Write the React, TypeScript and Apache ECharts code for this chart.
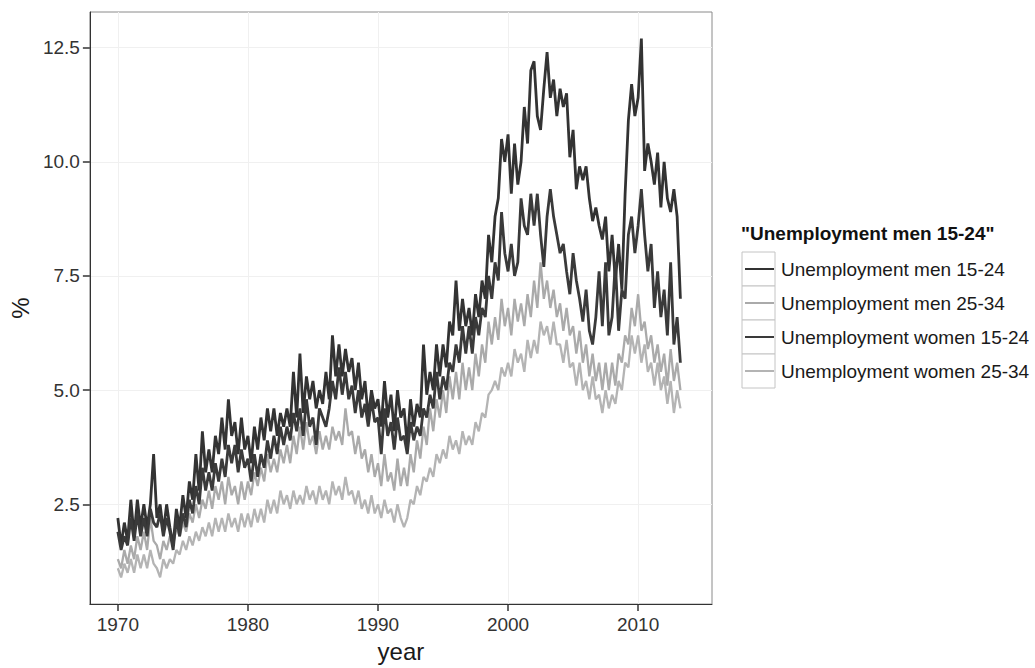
import React, { useEffect, useRef } from "react";
import * as echarts from "echarts";

// Quarterly unemployment rates (%), starting 1970 Q1
const startYear = 1970;
const stepsPerYear = 4;

const seriesNames = [
  "Unemployment men 15-24",
  "Unemployment men 25-34",
  "Unemployment women 15-24",
  "Unemployment women 25-34",
];
const legendTitle = '"Unemployment men 15-24"';
const xTicks = [1970, 1980, 1990, 2000, 2010];
const yTicks = [2.5, 5, 7.5, 10, 12.5];

const men1524 = [
  2.2, 1.6, 2.1, 1.7,
  2.6, 1.8, 2.6, 2.0,
  2.5, 2.0, 2.5, 3.6,
  2.2, 2.5, 1.9, 2.5,
  2.0, 1.6, 2.4, 2.0,
  2.7, 2.2, 3.0, 2.6,
  3.6, 2.8, 4.1, 3.2,
  3.7, 3.2, 4.0, 3.6,
  4.4, 3.7, 4.8, 4.0,
  4.3, 3.6, 4.4, 3.7,
  4.0, 3.4, 4.2, 3.7,
  4.4, 3.9, 4.6, 4.1,
  4.6, 4.0, 4.5, 4.2,
  4.6, 4.2, 5.4, 4.4,
  5.8, 4.5, 5.3, 4.8,
  5.2, 4.6, 5.0, 4.7,
  5.4, 4.8, 6.2, 5.3,
  6.0, 5.3, 5.9, 5.4,
  5.7, 5.0, 5.6, 4.8,
  5.2, 4.4, 5.0, 4.6,
  4.8, 4.2, 5.2, 4.4,
  4.9, 4.1, 5.0, 4.4,
  4.6, 3.8, 4.8, 4.2,
  4.7, 4.4, 6.0, 4.9,
  5.4, 5.0, 6.0, 5.3,
  6.0, 5.5, 6.5, 6.2,
  7.4, 6.3, 7.0, 6.4,
  6.8, 6.2, 7.1, 6.6,
  7.4, 7.0, 8.4, 7.8,
  8.8, 9.2, 10.5, 10.0,
  10.6, 9.3, 10.4, 9.5,
  10.0, 11.2, 10.4, 12.0,
  12.2, 11.0, 10.7, 11.6,
  12.4, 11.4, 11.8, 11.0,
  11.6, 11.2, 11.5, 10.1,
  10.7, 9.4, 9.9, 9.6,
  9.9, 9.2, 8.7, 9.0,
  8.6, 8.3, 8.8, 7.6,
  8.4, 7.4, 8.2, 7.2,
  9.3, 10.9, 11.7, 11.0,
  11.4, 12.7, 9.8, 10.4,
  10.0, 9.5, 10.2, 9.0,
  10.0, 9.2, 8.9, 9.4,
  8.8, 7.0,
];

const men2534 = [
  1.3, 1.1, 1.5, 1.2,
  1.6, 1.3, 1.8, 1.5,
  1.9, 1.5, 2.2, 1.7,
  1.6, 1.3, 1.7, 1.5,
  1.8, 1.6, 2.0, 1.8,
  2.1, 1.9, 2.3, 2.1,
  2.5, 2.2, 2.6, 2.4,
  2.8, 2.4, 2.9, 2.6,
  3.0, 2.5, 3.1, 2.7,
  2.9, 2.5, 3.0, 2.6,
  3.0, 2.7, 3.2, 2.9,
  3.3, 3.0, 3.6, 3.2,
  3.5, 3.2, 3.7, 3.4,
  3.8, 3.4, 4.0, 3.6,
  4.2, 3.7, 4.3, 3.8,
  4.0, 3.6, 4.1, 3.7,
  4.0, 3.7, 4.2, 3.9,
  4.1, 3.8, 4.6, 4.0,
  4.1, 3.6, 4.0, 3.5,
  3.7, 3.2, 3.6, 3.1,
  3.4, 2.9, 3.6, 3.0,
  3.2, 2.8, 3.5, 2.9,
  3.3, 2.9, 3.6, 3.2,
  3.9, 3.5, 4.2, 3.8,
  4.6, 4.1, 4.8, 4.4,
  5.0, 4.5, 5.3, 4.8,
  5.4, 4.8, 5.6, 5.0,
  5.5, 5.0, 5.8, 5.3,
  6.0, 5.6, 6.5, 6.0,
  6.6, 6.1, 7.0, 6.4,
  6.8, 6.2, 7.0, 6.5,
  6.9, 6.4, 7.1, 6.6,
  7.4, 6.8, 7.8, 7.0,
  7.4, 6.8, 7.2, 6.6,
  6.9, 6.3, 6.8, 6.2,
  6.4, 5.8, 6.3, 5.6,
  6.0, 5.3, 5.8, 5.2,
  5.6, 5.0, 5.6, 5.0,
  5.6, 5.1, 5.8, 5.6,
  6.2, 6.0, 6.8, 6.4,
  7.1, 6.3, 6.5, 5.9,
  6.2, 5.6, 6.0, 5.4,
  5.8, 5.1, 5.9, 5.2,
  5.6, 5.0,
];

const women1524 = [
  1.9, 1.5, 1.8, 1.6,
  2.2, 1.7, 2.3, 1.8,
  2.2, 1.8, 2.4, 2.1,
  2.0, 2.3, 1.8, 2.2,
  1.9, 1.5, 2.2, 1.8,
  2.3, 2.0, 2.6, 2.3,
  2.9, 2.5, 3.3, 2.8,
  3.2, 2.8, 3.4, 3.0,
  3.5, 3.1, 3.8, 3.4,
  3.8, 3.2, 3.7, 3.3,
  3.5, 3.0, 3.6, 3.1,
  3.6, 3.3, 3.9, 3.5,
  4.0, 3.6, 4.2, 3.8,
  4.2, 3.9, 4.5, 4.1,
  4.6, 4.0, 4.8, 4.2,
  4.4, 3.8, 4.6, 4.4,
  4.2, 4.6, 5.2, 4.8,
  5.5, 4.9, 5.4, 4.8,
  5.1, 4.5, 5.0, 4.4,
  4.7, 4.2, 4.8, 4.3,
  4.4, 3.6, 4.6, 4.0,
  4.3, 3.7, 4.4, 3.9,
  4.0, 3.6, 4.3, 3.9,
  4.2, 4.0, 4.6, 4.4,
  4.9, 4.6, 5.4, 4.8,
  5.3, 5.0, 5.6, 5.4,
  6.0, 5.6, 6.4, 5.8,
  6.4, 5.8, 6.6, 6.2,
  6.8, 6.6, 7.5, 7.0,
  7.8, 7.4, 8.9, 8.0,
  7.6, 8.2, 7.5, 7.8,
  9.2, 8.6, 8.4, 9.3,
  8.6, 9.3, 8.4, 7.7,
  8.8, 9.4, 8.8, 8.4,
  8.0, 8.2, 7.6, 7.1,
  8.0, 7.4, 7.0, 6.5,
  7.2, 6.3, 6.0, 6.6,
  7.6, 6.4, 7.8, 6.2,
  6.6, 7.8, 6.3, 7.2,
  7.0, 8.4, 8.8, 8.0,
  8.6, 9.4, 8.4, 7.6,
  8.2, 6.8, 7.6, 6.6,
  7.2, 6.2, 7.8, 6.0,
  6.6, 5.6,
];

const women2534 = [
  1.1, 0.9, 1.2, 1.0,
  1.3, 1.0, 1.4, 1.1,
  1.4, 1.1, 1.5, 1.2,
  1.1, 0.9, 1.3, 1.1,
  1.3, 1.2, 1.5, 1.4,
  1.7, 1.5, 1.8, 1.6,
  1.9, 1.7, 2.0, 1.8,
  2.1, 1.8, 2.2, 1.9,
  2.2, 1.9, 2.3, 2.0,
  2.2, 1.9, 2.3, 2.0,
  2.3, 2.0, 2.4, 2.1,
  2.4, 2.1, 2.6, 2.3,
  2.6, 2.3, 2.8, 2.5,
  2.7, 2.4, 2.8, 2.5,
  2.7, 2.5, 2.9, 2.6,
  2.8, 2.5, 2.9, 2.6,
  2.8, 2.5, 3.0, 2.7,
  2.9, 2.6, 3.1, 2.7,
  2.8, 2.5, 2.8, 2.4,
  2.6, 2.3, 2.7, 2.3,
  2.5, 2.2, 2.6, 2.3,
  2.4, 2.1, 2.5, 2.2,
  2.0, 2.2, 2.6, 2.5,
  2.9, 2.7, 3.1, 3.0,
  3.3, 3.1, 3.6, 3.4,
  3.7, 3.5, 4.0, 3.7,
  3.9, 3.6, 4.1, 3.8,
  4.0, 3.8, 4.3, 4.1,
  4.5, 4.4, 4.9, 5.0,
  5.2, 5.0, 5.5, 5.3,
  5.6, 5.3, 5.9, 5.6,
  5.8, 5.4, 6.1, 5.7,
  6.1, 5.8, 6.5, 6.2,
  6.4, 6.0, 6.5, 6.0,
  6.0, 5.6, 6.1, 5.5,
  5.6, 5.1, 5.6, 5.0,
  5.2, 4.8, 5.3, 4.8,
  4.9, 4.5, 5.0, 4.6,
  4.9, 4.7, 5.2, 5.0,
  5.6, 5.5, 6.2, 5.8,
  6.2, 5.6, 6.0, 5.4,
  5.6, 5.1, 5.6, 5.0,
  5.3, 4.7, 5.2, 4.5,
  5.0, 4.6,
];

const seriesValues = [men1524, men2534, women1524, women2534];
const seriesColors = ["#333333", "#aaaaaa", "#3a3a3a", "#b4b4b4"];
const seriesWidths = [2.8, 2.3, 2.8, 2.3];

const FONT = "'Liberation Sans', Arial, Helvetica, sans-serif";

function toPoints(values: number[]) {
  return values.map((v, i) => [startYear + i / stepsPerYear, v]);
}

function buildOption(): echarts.EChartsOption {
  const series = seriesNames.map((name, k) => ({
    name,
    type: "line" as const,
    data: toPoints(seriesValues[k]),
    symbol: "none",
    showSymbol: false,
    lineStyle: { color: seriesColors[k], width: seriesWidths[k] },
    itemStyle: { color: seriesColors[k] },
    z: 2,
  }));

  const keyBoxes = seriesNames.map((_, k) => ({
    type: "rect" as const,
    shape: { x: 742, y: 252 + k * 34, width: 33, height: 34 },
    style: { fill: "#ffffff", stroke: "#c4c4c4", lineWidth: 1 },
    z: 0,
  }));

  return {
    animation: false,
    backgroundColor: "#ffffff",
    grid: {
      left: 89,
      right: 323,
      top: 12,
      bottom: 61,
      show: true,
      borderColor: "#8a8a8a",
      borderWidth: 1,
      backgroundColor: "#ffffff",
    },
    legend: {
      data: seriesNames.map((name, k) => ({
        name,
        icon: "rect",
        itemStyle: { color: seriesColors[k] },
      })),
      orient: "vertical",
      left: 745,
      top: 258,
      padding: 0,
      itemWidth: 29,
      itemHeight: 2,
      itemGap: 12,
      selectedMode: false,
      textStyle: {
        fontFamily: FONT,
        fontSize: 19,
        lineHeight: 22,
        color: "#1a1a1a",
        padding: [0, 0, 0, 2],
      },
      z: 5,
    },
    graphic: [
      ...keyBoxes,
      {
        type: "text",
        left: 741,
        top: 224,
        style: {
          text: legendTitle,
          font: `bold 19px ${FONT}`,
          fill: "#111111",
        },
      },
    ],
    xAxis: {
      type: "value",
      min: 1967.85,
      max: 2015.68,
      name: "year",
      nameLocation: "middle",
      nameGap: 33,
      nameTextStyle: { fontFamily: FONT, fontSize: 24, color: "#1a1a1a" },
      axisLine: { show: true, onZero: false, lineStyle: { color: "#333333", width: 1 } },
      axisTick: {
        show: true,
        length: 7,
        customValues: xTicks,
        lineStyle: { color: "#333333", width: 1.5 },
      },
      axisLabel: {
        customValues: xTicks,
        formatter: (v: number) => String(Math.round(v)),
        fontFamily: FONT,
        fontSize: 19,
        color: "#333333",
        margin: 11,
      },
      splitLine: { show: true, lineStyle: { color: "#f0f0f0", width: 1 } },
    },
    yAxis: {
      type: "value",
      min: 0.315,
      max: 13.28,
      name: "%",
      nameLocation: "middle",
      nameRotate: 90,
      nameGap: 56,
      nameTextStyle: { fontFamily: FONT, fontSize: 24, color: "#1a1a1a" },
      axisLine: { show: true, onZero: false, lineStyle: { color: "#333333", width: 1 } },
      axisTick: {
        show: true,
        length: 7,
        customValues: yTicks,
        lineStyle: { color: "#333333", width: 1.5 },
      },
      axisLabel: {
        customValues: yTicks,
        formatter: (v: number) => v.toFixed(1),
        fontFamily: FONT,
        fontSize: 19,
        color: "#333333",
        margin: 10,
      },
      splitLine: { show: true, lineStyle: { color: "#f0f0f0", width: 1 } },
    },
    series,
  } as echarts.EChartsOption;
}

export default function App() {
  const ref = useRef<HTMLDivElement>(null);

  useEffect(() => {
    if (!ref.current) return;
    const chart = echarts.init(ref.current, null, { renderer: "svg" });
    chart.setOption(buildOption());
    return () => chart.dispose();
  }, []);

  return (
    <div
      ref={ref}
      style={{ position: "absolute", left: 0, top: 0, width: 1035, height: 668, background: "#ffffff" }}
    />
  );
}
